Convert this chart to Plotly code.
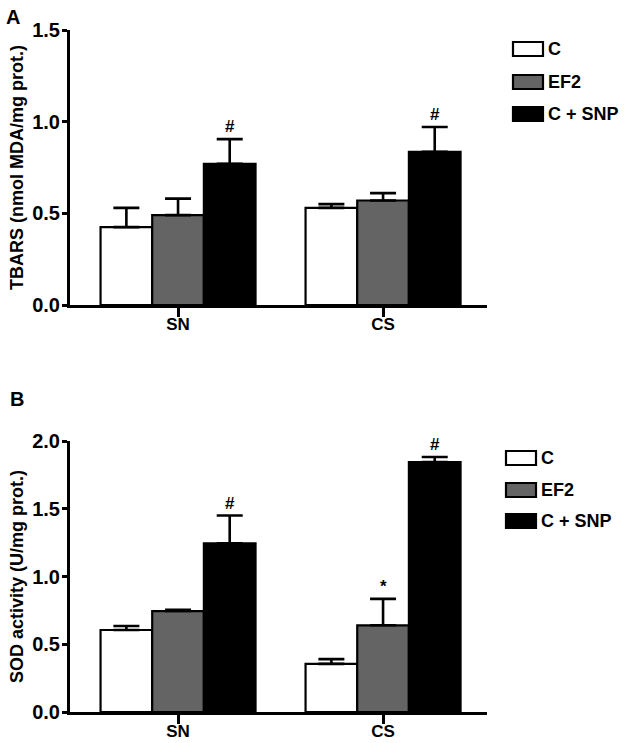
import plotly.graph_objects as go

# ---------------- data ----------------
categories = ["SN", "CS"]
series_names = ["C", "EF2", "C + SNP"]
series_colors = ["#ffffff", "#646464", "#000000"]

tbars_C = [0.425, 0.53]
tbars_EF2 = [0.49, 0.57]
tbars_SNP = [0.77, 0.835]
tbars_C_err = [0.105, 0.02]
tbars_EF2_err = [0.09, 0.04]
tbars_SNP_err = [0.135, 0.136]
tbars_marks = [["", "", "#"], ["", "", "#"]]   # per category, per series

sod_C = [0.605, 0.355]
sod_EF2 = [0.745, 0.64]
sod_SNP = [1.245, 1.845]
sod_C_err = [0.03, 0.035]
sod_EF2_err = [0.01, 0.195]
sod_SNP_err = [0.205, 0.037]
sod_marks = [["", "", "#"], ["", "*", "#"]]

tbars_ticks = [0.0, 0.5, 1.0, 1.5]
sod_ticks = [0.0, 0.5, 1.0, 1.5, 2.0]

# ---------------- style ----------------
W, H = 630, 743
FONT = "Liberation Sans, Arial, sans-serif"
BARGAP = 0.244
xrange_ = [-0.527, 1.507]

fig = go.Figure()

panels = [
    dict(vals=[tbars_C, tbars_EF2, tbars_SNP],
         errs=[tbars_C_err, tbars_EF2_err, tbars_SNP_err],
         marks=tbars_marks, xa="x", ya="y"),
    dict(vals=[sod_C, sod_EF2, sod_SNP],
         errs=[sod_C_err, sod_EF2_err, sod_SNP_err],
         marks=sod_marks, xa="x2", ya="y2"),
]

nser = len(series_names)
bw = (1 - BARGAP) / nser
annotations = []
for p in panels:
    for i in range(nser):
        fig.add_trace(go.Bar(
            x=list(range(len(categories))), y=p["vals"][i], name=series_names[i],
            marker=dict(color=series_colors[i], line=dict(color="black", width=2.2)),
            error_y=dict(type="data", symmetric=False, array=p["errs"][i],
                         arrayminus=[0] * len(categories), color="black",
                         thickness=2.6, width=13),
            xaxis=p["xa"], yaxis=p["ya"], showlegend=False, hoverinfo="skip",
        ))
    for c in range(len(categories)):
        for i in range(nser):
            m = p["marks"][c][i]
            if m:
                annotations.append(dict(
                    x=c + (i - (nser - 1) / 2) * bw,
                    y=p["vals"][i][c] + p["errs"][i][c],
                    xref=p["xa"], yref=p["ya"], text="<b>%s</b>" % m,
                    showarrow=False, yanchor="bottom", yshift=1,
                    font=dict(family=FONT, size=17, color="black")))

axis_common = dict(showline=True, linewidth=3, linecolor="black",
                   ticks="outside", tickwidth=3, tickcolor="black",
                   showgrid=False, zeroline=False, automargin=False)

xdom = [70 / W, 487 / W]
ydomA = [1 - 305 / H, 1 - 30 / H]
ydomB = [1 - 712 / H, 1 - 441 / H]

tickfont = dict(family=FONT, size=20, color="black")
catfont = dict(family=FONT, size=17, color="black")
titlefont = dict(family=FONT, size=18, color="black")

fig.update_layout(
    width=W, height=H, margin=dict(l=0, r=0, t=0, b=0),
    paper_bgcolor="white", plot_bgcolor="white",
    barmode="group", bargap=BARGAP, bargroupgap=0,
    xaxis=dict(domain=xdom, range=xrange_, anchor="y", ticklen=9,
               tickvals=list(range(len(categories))),
               ticktext=["<b>%s</b>" % c for c in categories],
               tickfont=catfont, ticklabelstandoff=-7, **axis_common),
    yaxis=dict(domain=ydomA, range=[0, 1.5], anchor="x", ticklen=5,
               tickvals=tbars_ticks,
               ticktext=["<b>%.1f</b>" % t for t in tbars_ticks],
               tickfont=tickfont, ticklabelstandoff=-2,
               title=dict(text="<b>TBARS (nmol MDA/mg prot.)</b>",
                          font=titlefont, standoff=4),
               **axis_common),
    xaxis2=dict(domain=xdom, range=xrange_, anchor="y2", ticklen=9,
                tickvals=list(range(len(categories))),
                ticktext=["<b>%s</b>" % c for c in categories],
                tickfont=catfont, ticklabelstandoff=-7, **axis_common),
    yaxis2=dict(domain=ydomB, range=[0, 2.0], anchor="x2", ticklen=5,
                tickvals=sod_ticks,
                ticktext=["<b>%.1f</b>" % t for t in sod_ticks],
                tickfont=tickfont, ticklabelstandoff=-2,
                title=dict(text="<b>SOD activity (U/mg prot.)</b>",
                           font=titlefont, standoff=4),
                **axis_common),
)

# panel letters
annotations.append(dict(x=4 / W, y=1 - 4 / H, xref="paper", yref="paper",
                        text="<b>A</b>", showarrow=False, xanchor="left",
                        yanchor="top", font=dict(family=FONT, size=20, color="black")))
annotations.append(dict(x=8 / W, y=1 - 386 / H, xref="paper", yref="paper",
                        text="<b>B</b>", showarrow=False, xanchor="left",
                        yanchor="top", font=dict(family=FONT, size=20, color="black")))

# custom legends (wide swatches like the original)
shapes = []
legend_layouts = [
    dict(x0=513, rows=[49, 82, 114]),
    dict(x0=506, rows=[458, 490, 521]),
]
for lg in legend_layouts:
    for i, name in enumerate(series_names):
        yc = lg["rows"][i]
        shapes.append(dict(type="rect", xref="paper", yref="paper",
                           x0=lg["x0"] / W, x1=(lg["x0"] + 30) / W,
                           y0=1 - (yc + 7) / H, y1=1 - (yc - 7) / H,
                           fillcolor=series_colors[i],
                           line=dict(color="black", width=2.2)))
        annotations.append(dict(x=(lg["x0"] + 33) / W, y=1 - yc / H,
                                xref="paper", yref="paper",
                                text="<b>%s</b>" % name, showarrow=False,
                                xanchor="left", yanchor="middle",
                                font=dict(family=FONT, size=18, color="black")))

fig.update_layout(annotations=annotations, shapes=shapes)
fig.write_html("out.html", config={"displayModeBar": False},
               post_script="document.body.style.margin='0';document.body.style.overflow='hidden';")
